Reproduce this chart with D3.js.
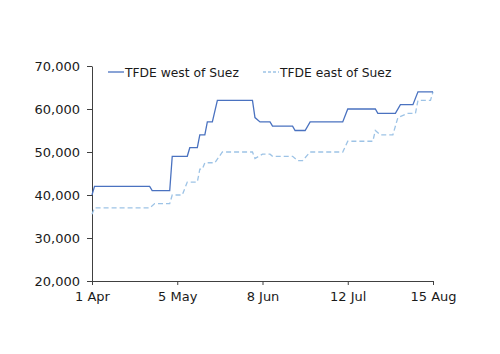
<!DOCTYPE html>
<html>
<head>
<meta charset="utf-8">
<script src="https://cdn.jsdelivr.net/npm/d3@7"></script>
<style>
  body { margin: 0; background: #fff; }
  svg text { font-family: "DejaVu Sans", Verdana, sans-serif; font-size: 12px; fill: #1a1a1a; }
</style>
</head>
<body>
<svg id="chart" width="500" height="354"></svg>
<script>
// series (step changes, daily)
const westDates = ["2021-04-01","2021-04-02","2021-04-24","2021-04-25","2021-05-02","2021-05-03","2021-05-09","2021-05-10",
  "2021-05-13","2021-05-14","2021-05-16","2021-05-17","2021-05-19","2021-05-21","2021-06-04","2021-06-05","2021-06-07",
  "2021-06-11","2021-06-12","2021-06-20","2021-06-21","2021-06-25","2021-06-27","2021-07-10","2021-07-12","2021-07-23",
  "2021-07-24","2021-07-31","2021-08-02","2021-08-07","2021-08-09","2021-08-15"];
const westValues = [40000,42000,42000,41000,41000,49000,49000,51000,
  51000,54000,54000,57000,57000,62000,62000,58000,57000,
  57000,56000,56000,55000,55000,57000,57000,60000,60000,
  59000,59000,61000,61000,64000,64000];

const eastDates = ["2021-04-01","2021-04-02","2021-04-24","2021-04-26","2021-05-02","2021-05-03","2021-05-07","2021-05-09",
  "2021-05-13","2021-05-14","2021-05-15","2021-05-16","2021-05-20","2021-05-23","2021-06-04","2021-06-05","2021-06-08",
  "2021-06-11","2021-06-12","2021-06-20","2021-06-22","2021-06-24","2021-06-27","2021-07-10","2021-07-12","2021-07-22",
  "2021-07-23","2021-07-25","2021-07-30","2021-08-01","2021-08-05","2021-08-08","2021-08-09","2021-08-14","2021-08-15"];
const eastValues = [35500,37000,37000,38000,38000,40000,40000,43000,
  43000,46000,46000,47500,47500,50000,50000,48500,49500,
  49500,49000,49000,48000,48000,50000,50000,52500,52500,
  55000,54000,54000,58000,59000,59000,62000,62000,64000];

const seriesNames = ["TFDE west of Suez", "TFDE east of Suez"];
const yTicks = [20000, 30000, 40000, 50000, 60000, 70000];
const xTickDates = ["2021-04-01","2021-05-05","2021-06-08","2021-07-12","2021-08-15"];

const parse = d3.timeParse("%Y-%m-%d");
const west = westDates.map((d, i) => ({ date: parse(d), value: westValues[i] }));
const east = eastDates.map((d, i) => ({ date: parse(d), value: eastValues[i] }));

const svg = d3.select("#chart");

const x = d3.scaleTime()
  .domain([parse(xTickDates[0]), parse(xTickDates[xTickDates.length - 1])])
  .range([92, 433]);
const y = d3.scaleLinear().domain([20000, 70000]).range([281, 66]);

// y axis
const yAxis = svg.append("g")
  .attr("transform", "translate(92,0)")
  .call(d3.axisLeft(y).tickValues(yTicks).tickFormat(d3.format(",")).tickSize(5).tickSizeOuter(0).tickPadding(7));
yAxis.select(".domain").attr("stroke", "#404040");
yAxis.selectAll(".tick line").attr("stroke", "#404040");
yAxis.selectAll("text").style("font-size", "13px");

// x axis
const xAxis = svg.append("g")
  .attr("transform", "translate(0,281)")
  .call(d3.axisBottom(x).tickValues(xTickDates.map(parse)).tickFormat(d3.timeFormat("%-d %b")).tickSize(4).tickSizeOuter(0).tickPadding(7));
xAxis.select(".domain").attr("stroke", "#404040");
xAxis.selectAll(".tick line").attr("stroke", "#404040");
xAxis.selectAll("text").style("font-size", "13px");

const line = d3.line().x(d => x(d.date)).y(d => y(d.value));

svg.append("path").datum(east)
  .attr("fill", "none").attr("stroke", "#9dc3e6").attr("stroke-width", 1.3)
  .attr("stroke-dasharray", "5,3").attr("d", line);

svg.append("path").datum(west)
  .attr("fill", "none").attr("stroke", "#4a72c0").attr("stroke-width", 1.3)
  .attr("d", line);

// legend
const legend = [
  { name: seriesNames[0], color: "#4a72c0", dash: null, x0: 108 },
  { name: seriesNames[1], color: "#9dc3e6", dash: "3,2", x0: 263 }
];
legend.forEach(l => {
  svg.append("line").attr("x1", l.x0).attr("x2", l.x0 + 16).attr("y1", 72).attr("y2", 72)
    .attr("stroke", l.color).attr("stroke-width", 1.3).attr("stroke-dasharray", l.dash);
  svg.append("text").attr("x", l.x0 + 17).attr("y", 76.5).style("font-size", "12.3px").text(l.name);
});
</script>
</body>
</html>
